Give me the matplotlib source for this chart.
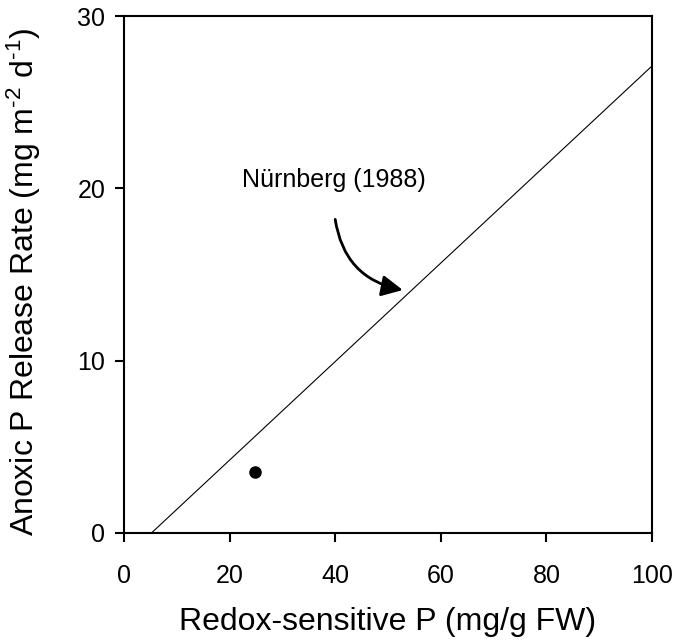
import matplotlib
matplotlib.use("Agg")
import matplotlib.pyplot as plt
from matplotlib.patches import FancyArrowPatch

# ----------------------------------- DATA ----------------------------------- #

# Nurnberg (1988) model line
model_x = [5.2, 100]
model_y = [0.0, 27.1]

# the single measured point
obs_x = [24.9]
obs_y = [3.55]

x_ticks = [0, 20, 40, 60, 80, 100]
y_ticks = [0, 10, 20, 30]

# --------------------------------- PLOTTING --------------------------------- #

plt.rcParams['font.family'] = ['Liberation Sans', 'DejaVu Sans']
plt.rcParams['mathtext.fontset'] = 'custom'
plt.rcParams['mathtext.rm'] = 'Liberation Sans'
plt.rcParams['mathtext.default'] = 'rm'

fig = plt.figure(figsize=(6.81, 6.44), dpi=100)
ax = fig.add_axes([124 / 681, 111 / 644, 528 / 681, 517 / 644])

ax.plot(model_x, model_y, color='black', linewidth=0.8)
ax.plot(obs_x, obs_y, 'o', color='black', markersize=8)

ax.set_xlim(0, 100)
ax.set_ylim(0, 30)
ax.set_xticks(x_ticks)
ax.set_yticks(y_ticks)
ax.tick_params(direction='out', length=6.5, width=1.5, labelsize=18)
ax.tick_params(axis='x', pad=15.5)
ax.tick_params(axis='y', pad=7)
for s in ax.spines.values():
    s.set_linewidth(1.5)

ax.set_xlabel('Redox-sensitive P (mg/g FW)', fontsize=23, labelpad=14)
ax.set_ylabel(r'Anoxic P Release Rate (mg m$^{\text{-2}}$ d$^{\text{-1}}$)',
              fontsize=23)
ax.yaxis.set_label_coords(-0.153, 0.485)

ax.text(39.8, 20.08, 'Nürnberg (1988)', fontsize=18, ha='center', va='baseline')
arrow = FancyArrowPatch((40, 18.2), (52.8, 14.1), connectionstyle='arc3,rad=0.35',
                        arrowstyle='-|>,head_length=0.8,head_width=0.4',
                        mutation_scale=16, color='black', linewidth=2,
                        shrinkA=0, shrinkB=0)
ax.add_patch(arrow)

fig.savefig('out.png', dpi=100)
